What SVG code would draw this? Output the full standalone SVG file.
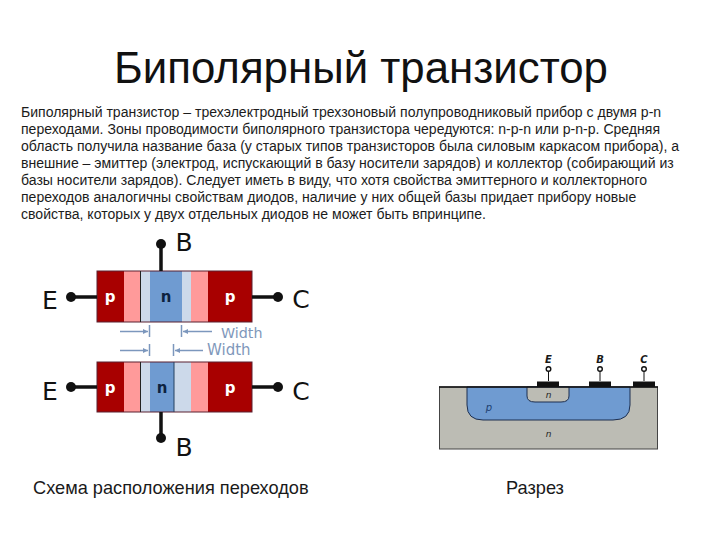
<svg xmlns="http://www.w3.org/2000/svg" width="720" height="540" viewBox="0 0 720 540">
<defs>
<marker id="ah" markerWidth="6" markerHeight="6" refX="5" refY="2.5" orient="auto-start-reverse" markerUnits="userSpaceOnUse"><path d="M0 0L5 2.5L0 5Z" fill="#7c97bd"/></marker>
</defs>
<style>
text{font-family:"Liberation Sans",Arial,sans-serif;fill:#111}
.title{font-size:43.8px}
.body{font-size:14.05px;fill:#1c1c1c}
.cap{font-size:18.2px;fill:#1a1a1a}
.term{font-family:"DejaVu Sans",sans-serif;font-size:25px;fill:#111}
.wd{font-family:"DejaVu Sans",sans-serif;font-size:14.3px;fill:#7f98bb}
.pw{font-family:"DejaVu Sans",sans-serif;font-size:15px;font-weight:bold;fill:#fff}
.nl{font-family:"DejaVu Sans",sans-serif;font-size:15px;font-weight:bold;fill:#0d2240}
.dr{fill:#a80000}.lr{fill:#ff9a9a}.pb{fill:#ccd9ea}.bl{fill:#6f9bd1}
.wire{stroke:#111;stroke-width:3.5;fill:none}
.dot{fill:#111}
.dim{stroke:#7c97bd;stroke-width:1.5;fill:none}
.si{font-family:"DejaVu Sans",sans-serif;font-size:10px;font-style:italic;font-weight:bold;fill:#1a1a1a}
.sp{font-family:"DejaVu Sans",sans-serif;font-size:10px;font-style:italic;fill:#1d3f70}
.sn{font-family:"DejaVu Sans",sans-serif;font-size:9px;font-style:italic;fill:#222}
.lead{stroke:#111;stroke-width:1;fill:none}
.ring{fill:#fff;stroke:#111;stroke-width:1.4}
</style>

<g id="title"><text class="title" x="361" y="83" text-anchor="middle">Биполярный транзистор</text></g>
<g id="paragraph">
<text class="body" x="21" y="117">Биполярный транзистор – трехэлектродный трехзоновый полупроводниковый прибор с двумя p-n</text>
<text class="body" x="21" y="134">переходами. Зоны проводимости биполярного транзистора чередуются: n-p-n или p-n-p. Средняя</text>
<text class="body" x="21" y="151">область получила название база (у старых типов транзисторов была силовым каркасом прибора), а</text>
<text class="body" x="21" y="168">внешние – эмиттер (электрод, испускающий в базу носители зарядов) и коллектор (собирающий из</text>
<text class="body" x="21" y="185">базы носители зарядов). Следует иметь в виду, что хотя свойства эмиттерного и коллекторного</text>
<text class="body" x="21" y="202">переходов аналогичны свойствам диодов, наличие у них общей базы придает прибору новые</text>
<text class="body" x="21" y="218.500">свойства, которых у двух отдельных диодов не может быть впринципе.</text>
</g>

<g id="transistor-top">
<rect class="dr" x="97" y="271" width="27" height="51"/>
<rect class="lr" x="124" y="271" width="16" height="51"/>
<rect class="pb" x="140" y="271" width="10" height="51"/>
<rect class="bl" x="150" y="271" width="32" height="51"/>
<rect class="pb" x="182" y="271" width="9" height="51"/>
<rect class="lr" x="191" y="271" width="17" height="51"/>
<rect class="dr" x="208" y="271" width="44" height="51"/>
<rect x="97" y="271" width="155" height="51" fill="none" stroke="#5a2030" stroke-width="1"/>
<line x1="140.500" y1="271" x2="140.500" y2="322" stroke="#222" stroke-width="1"/>
<text class="pw" x="110" y="302" text-anchor="middle">p</text>
<text class="nl" x="166" y="302" text-anchor="middle">n</text>
<text class="pw" x="230" y="302" text-anchor="middle">p</text>
</g>
<g id="transistor-bottom">
<rect class="dr" x="97" y="362" width="27" height="50"/>
<rect class="lr" x="124" y="362" width="16" height="50"/>
<rect class="pb" x="140" y="362" width="10" height="50"/>
<rect class="bl" x="150" y="362" width="24" height="50"/>
<rect class="pb" x="174" y="362" width="17" height="50"/>
<rect class="lr" x="191" y="362" width="17" height="50"/>
<rect class="dr" x="208" y="362" width="44" height="50"/>
<rect x="97" y="362" width="155" height="50" fill="none" stroke="#5a2030" stroke-width="1"/>
<line x1="140.500" y1="362" x2="140.500" y2="412" stroke="#222" stroke-width="1"/>
<line x1="174" y1="362" x2="174" y2="412" stroke="#24405f" stroke-width="1"/>
<text class="pw" x="110" y="393" text-anchor="middle">p</text>
<text class="nl" x="162" y="393" text-anchor="middle">n</text>
<text class="pw" x="230" y="393" text-anchor="middle">p</text>
</g>

<g id="connectors">
<path class="wire" d="M161 271V245"/>
<path class="wire" d="M71 297H97"/>
<path class="wire" d="M252 297H278"/>
<path class="wire" d="M71 387H97"/>
<path class="wire" d="M252 387H278"/>
<path class="wire" d="M161 412V438"/>
<path class="dim" d="M120 331.500H148" marker-end="url(#ah)"/>
<path class="dim" d="M212 331.500H183" marker-end="url(#ah)"/>
<path class="dim" d="M120 350.500H148" marker-end="url(#ah)"/>
<path class="dim" d="M203 350.500H175" marker-end="url(#ah)"/>
<path class="dim" d="M149.500 325V337M181.500 325V337M149.500 344V356M173.500 344V356"/>
</g>

<g id="terminal-B-top"><circle class="dot" cx="161" cy="244" r="5"/><text class="term" x="184" y="251" text-anchor="middle">B</text></g>
<g id="terminal-E-top"><circle class="dot" cx="71" cy="297" r="5"/><text class="term" x="50" y="309" text-anchor="middle">E</text></g>
<g id="terminal-C-top"><circle class="dot" cx="278" cy="297" r="5"/><text class="term" x="301" y="308" text-anchor="middle">C</text></g>
<g id="terminal-E-bottom"><circle class="dot" cx="71" cy="387" r="5"/><text class="term" x="50" y="400" text-anchor="middle">E</text></g>
<g id="terminal-C-bottom"><circle class="dot" cx="278" cy="387" r="5"/><text class="term" x="301" y="400" text-anchor="middle">C</text></g>
<g id="terminal-B-bottom"><circle class="dot" cx="161" cy="438" r="5"/><text class="term" x="184" y="456" text-anchor="middle">B</text></g>
<g id="width-labels">
<text class="wd" x="221" y="338">Width</text>
<text class="wd" x="207" y="355" style="font-size:15px">Width</text>
</g>

<g id="section">
<rect x="439.500" y="387" width="218" height="62" fill="#bcbcb4" stroke="#444" stroke-width="1"/>
<path d="M467 387V405Q467 420 483 420H613Q630 420 630 405V387Z" fill="#6f9bd1" stroke="#1d2f50" stroke-width="1"/>
<path d="M527 387V396Q527 402 535 402H561Q569 402 569 396V387Z" fill="#bcbcb4" stroke="#1d2f50" stroke-width="1"/>
<line x1="439" y1="387" x2="658" y2="387" stroke="#111" stroke-width="1.500"/>
<rect x="537" y="381.500" width="22" height="5.500" fill="#111"/>
<rect x="589" y="381.500" width="22" height="5.500" fill="#111"/>
<rect x="633" y="381.500" width="22" height="5.500" fill="#111"/>
<path class="lead" d="M548.500 381V371M600 381V371M644 381V371"/>
<circle class="ring" cx="548.500" cy="369" r="2.300"/>
<circle class="ring" cx="600" cy="369" r="2.300"/>
<circle class="ring" cx="644" cy="369" r="2.300"/>
<text class="si" x="548.500" y="363" text-anchor="middle">E</text>
<text class="si" x="600" y="363" text-anchor="middle">B</text>
<text class="si" x="644" y="363" text-anchor="middle">C</text>
<text class="sp" x="489" y="411" text-anchor="middle">p</text>
<text class="sn" x="548.500" y="398" text-anchor="middle">n</text>
<text class="sn" x="548.500" y="437" text-anchor="middle">n</text>
</g>

<g id="captions">
<text class="cap" x="33" y="494">Схема расположения переходов</text>
<text class="cap" x="506" y="494">Разрез</text>
</g>
</svg>
